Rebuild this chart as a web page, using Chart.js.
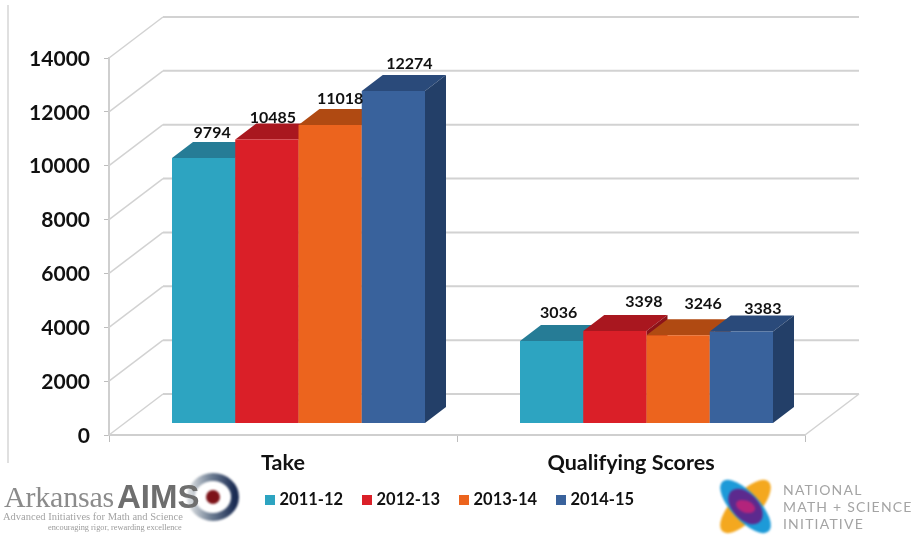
<!DOCTYPE html>
<html>
<head>
<meta charset="utf-8">
<title>AP exams</title>
<script src="https://cdn.jsdelivr.net/npm/chart.js@4"></script>
<style>
    html, body { margin: 0; padding: 0; background: #fff; }
    #wrap { position: relative; width: 918px; height: 537px; overflow: hidden; }
    #chartCanvas { position: absolute; left: 0; top: 0; filter: blur(0.4px); }
    .logoText { position: absolute; white-space: nowrap; filter: blur(0.7px); }
    #logoAims, #logoNmsi { position: absolute; filter: blur(0.8px); }
</style>
</head>
<body>
<div id="wrap">
    <canvas id="chartCanvas" width="918" height="537"></canvas>

    <svg id="logoAims" style="left:180px;top:468px" width="64" height="58">
        <defs>
            <linearGradient id="ringFade" x1="0" x2="1" y1="0" y2="0">
                <stop offset="0" stop-color="#d4d8dc"/>
                <stop offset="0.45" stop-color="#6f7f94"/>
                <stop offset="1" stop-color="#1a2b52"/>
            </linearGradient>
        </defs>
        <ellipse cx="33" cy="29" rx="22" ry="20" fill="none" stroke="url(#ringFade)" stroke-width="8"/>
        <circle cx="33" cy="29" r="7" fill="#7d1218"/>
    </svg>
    <div class="logoText" style="left:4px;top:480px;font:30px 'Liberation Serif';color:#8b8b8b;letter-spacing:-0.2px">Arkansas</div>
    <div class="logoText" style="left:117px;top:478px;font:bold 33px 'Liberation Sans';color:#6e6e6e">AIMS</div>
    <div class="logoText" style="left:3px;top:511px;font:10.5px 'Liberation Serif';color:#a3a3a3">Advanced Initiatives for Math and Science</div>
    <div class="logoText" style="left:48px;top:523px;font:8.3px 'Liberation Serif';color:#9a9a9a">encouraging rigor, rewarding excellence</div>

    <svg id="logoNmsi" style="left:715px;top:476px" width="62" height="62">
        <g transform="translate(30.5 30.5)">
            <ellipse rx="34" ry="14" transform="rotate(-47)" fill="#f4a81f"/>
            <ellipse rx="34" ry="14" transform="rotate(47)" fill="#1d9ad8"/>
            <ellipse rx="21" ry="13" transform="rotate(47)" fill="#5c2a8e"/>
            <ellipse rx="10" ry="6" transform="rotate(20)" fill="#b3247c"/>
        </g>
    </svg>
    <div class="logoText" style="left:783px;top:481px;font:14px Lato;color:#a4a4a4;letter-spacing:1.2px">NATIONAL</div>
    <div class="logoText" style="left:783px;top:498px;font:14px Lato;color:#a4a4a4;letter-spacing:1.2px">MATH + SCIENCE</div>
    <div class="logoText" style="left:783px;top:515px;font:14px Lato;color:#a4a4a4;letter-spacing:1.2px">INITIATIVE</div>
</div>

<script>
// Data:
var categories = ['Take', 'Qualifying Scores'];
var seriesNames = ['2011-12', '2012-13', '2013-14', '2014-15'];
var values2011 = [9794, 3036];
var values2012 = [10485, 3398];
var values2013 = [11018, 3246];
var values2014 = [12274, 3383];

// Colours of the faces, one per series:
var frontColors = ['#2da4c1', '#da1f28', '#ec641e', '#39629c'];
var topColors = ['#267c96', '#a9171f', '#b04a12', '#2a4a7a'];
var sideColors = ['#1f6a80', '#8c1319', '#963e0f', '#233f68'];

// Fake 3D geometry, in pixels:
var wallDx = 54, wallDy = -41;      // front plane to back wall
var barShiftX = 15.5, barShiftY = -12;  // front plane to front of the bars
var barDx = 21, barDy = -16;        // depth of a bar

// The labels do not sit straight above their bars in the original:
var labelNudgeX = [[8.5, 7], [6, 29], [10, 25], [16, 21.5]];
var labelNudgeY = [[-25, -28], [-22, -29], [-26, -31], [-27, -23]];

// Legend row, left edge of each colour box:
var legendBoxX = [265, 362, 459, 556];

var gridColor = '#d2d2d2';
var textFont = 'Lato';

/**
 * Draws the walls and the floor lines behind the bars.
 */
function drawWalls(chart) {
    var ctx = chart.ctx;
    var area = chart.chartArea;
    var yScale = chart.scales.y;

    ctx.save();
    ctx.strokeStyle = '#e0e0e0';
    ctx.lineWidth = 2;
    ctx.beginPath();
    ctx.moveTo(8, 5);
    ctx.lineTo(8, 463);
    ctx.stroke();

    ctx.strokeStyle = gridColor;
    for (var i = 0; i < yScale.ticks.length; i++) {
        var y = yScale.getPixelForTick(i);
        ctx.lineWidth = 1.5;
        ctx.beginPath();
        ctx.moveTo(area.left, y);
        ctx.lineTo(area.left + wallDx, y + wallDy);
        ctx.stroke();
        ctx.lineWidth = 2;
        ctx.beginPath();
        ctx.moveTo(area.left + wallDx, y + wallDy);
        ctx.lineTo(area.right + wallDx, y + wallDy);
        ctx.stroke();
    }

    // Right edge of the floor
    ctx.lineWidth = 1.5;
    ctx.beginPath();
    ctx.moveTo(area.right, area.bottom);
    ctx.lineTo(area.right + wallDx, area.bottom + wallDy);
    ctx.stroke();
    ctx.restore();
}

/**
 * Draws top and side of one bar, the library draws its front afterwards.
 */
function drawBarDepth(ctx, bar, seriesIndex) {
    var left = bar.x - bar.width / 2;
    var right = bar.x + bar.width / 2;

    ctx.fillStyle = topColors[seriesIndex];
    ctx.beginPath();
    ctx.moveTo(left, bar.y);
    ctx.lineTo(right, bar.y);
    ctx.lineTo(right + barDx, bar.y + barDy);
    ctx.lineTo(left + barDx, bar.y + barDy);
    ctx.closePath();
    ctx.fill();

    ctx.fillStyle = sideColors[seriesIndex];
    ctx.beginPath();
    ctx.moveTo(right, bar.y);
    ctx.lineTo(right + barDx, bar.y + barDy);
    ctx.lineTo(right + barDx, bar.base + barDy);
    ctx.lineTo(right, bar.base);
    ctx.closePath();
    ctx.fill();
}

/**
 * Legend row, the gaps of the built in legend are too wide for this chart.
 */
function drawLegendRow(ctx) {
    ctx.save();
    ctx.font = 'bold 16.5px ' + textFont;
    ctx.textAlign = 'left';
    ctx.textBaseline = 'middle';
    for (var i = 0; i < seriesNames.length; i++) {
        ctx.fillStyle = frontColors[i];
        ctx.fillRect(legendBoxX[i], 495, 10, 10);
        ctx.fillStyle = '#111';
        ctx.fillText(seriesNames[i], legendBoxX[i] + 14.5, 500);
    }
    ctx.restore();
}

var fake3dPlugin = {
    id: 'fake3d',
    beforeDatasetsDraw: function (chart) {
        var ctx = chart.ctx;
        drawWalls(chart);

        // First series goes first, so later ones cover its side face
        ctx.save();
        ctx.translate(barShiftX, barShiftY);
        for (var i = 0; i < chart.data.datasets.length; i++) {
            var meta = chart.getDatasetMeta(i);
            for (var j = 0; j < meta.data.length; j++)
                drawBarDepth(ctx, meta.data[j], i);
            meta.controller.draw();
        }

        ctx.fillStyle = '#111';
        ctx.font = 'bold 16px ' + textFont;
        ctx.textAlign = 'center';
        ctx.textBaseline = 'middle';
        for (var s = 0; s < chart.data.datasets.length; s++) {
            var bars = chart.getDatasetMeta(s).data;
            for (var k = 0; k < bars.length; k++)
                ctx.fillText(String(chart.data.datasets[s].data[k]), bars[k].x + labelNudgeX[s][k], bars[k].y + labelNudgeY[s][k]);
        }
        ctx.restore();
        drawLegendRow(ctx);
        return false;
    }
};

var seriesValues = [values2011, values2012, values2013, values2014];
var datasets = [];
for (var i = 0; i < seriesNames.length; i++) {
    datasets.push({
        label: seriesNames[i],
        data: seriesValues[i],
        backgroundColor: frontColors[i],
        yAxisID: 'yBars',
        barPercentage: 1.0,
        categoryPercentage: 0.727
    });
}

new Chart(document.getElementById('chartCanvas'), {
    type: 'bar',
    data: { labels: categories, datasets: datasets },
    plugins: [fake3dPlugin],
    options: {
        responsive: false,
        animation: false,
        events: [],
        layout: { padding: { top: 58, right: 113, left: 0, bottom: 0 } },
        plugins: {
            tooltip: { enabled: false },
            legend: { display: false }
        },
        scales: {
            x: {
                grid: { drawOnChartArea: false, tickLength: 7, color: '#bdbdbd', tickColor: '#bdbdbd' },
                border: { color: '#cfcfcf', width: 2 },
                ticks: { color: '#111', padding: 8, font: { family: textFont, weight: 'bold', size: 21.5 }, maxRotation: 0 },
                afterFit: function (scale) {
                    scale.height = 102;
                }
            },
            y: {
                min: 0,
                max: 14000,
                grid: { drawOnChartArea: false, tickLength: 5, color: '#bdbdbd', tickColor: '#bdbdbd' },
                border: { color: '#cfcfcf', width: 2 },
                ticks: {
                    stepSize: 2000,
                    color: '#111',
                    padding: 14,
                    labelOffset: 1,
                    font: { family: textFont, weight: 'bold', size: 21 },
                    callback: function (value) {
                        return String(value);
                    }
                },
                afterFit: function (scale) {
                    scale.width = 109;
                }
            },
            // Bars are a little taller than the axis, they stand further back
            yBars: {
                display: false,
                min: 0,
                max: 13937
            }
        }
    }
});
</script>
</body>
</html>
